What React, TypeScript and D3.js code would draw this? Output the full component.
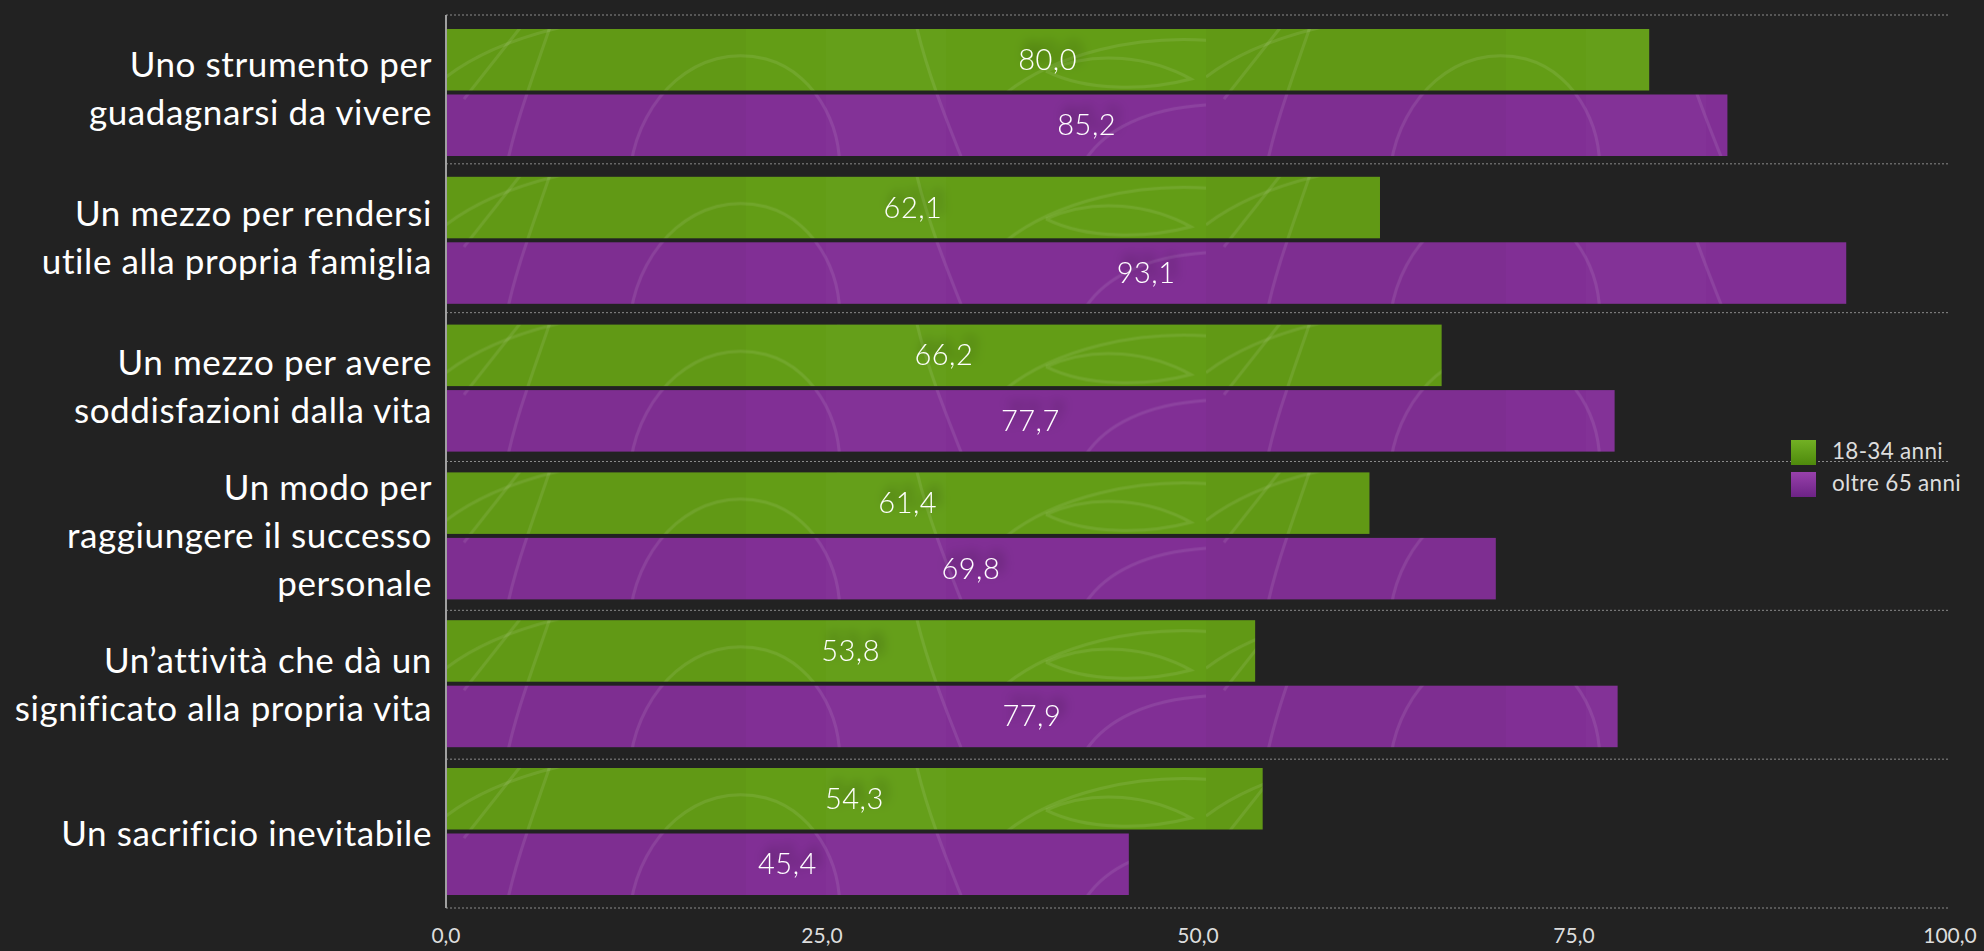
import React from "react";
import * as d3 from "d3";

const categories = [
  "Uno strumento per guadagnarsi da vivere",
  "Un mezzo per rendersi utile alla propria famiglia",
  "Un mezzo per avere soddisfazioni dalla vita",
  "Un modo per raggiungere il successo personale",
  "Un’attività che dà un significato alla propria vita",
  "Un sacrificio inevitabile",
];
const categoryLines = [
  ["Uno strumento per", "guadagnarsi da vivere"],
  ["Un mezzo per rendersi", "utile alla propria famiglia"],
  ["Un mezzo per avere", "soddisfazioni dalla vita"],
  ["Un modo per", "raggiungere il successo", "personale"],
  ["Un’attività che dà un", "significato alla propria vita"],
  ["Un sacrificio inevitabile"],
];
const seriesNames = ["18-34 anni", "oltre 65 anni"];
const young = [80.0, 62.1, 66.2, 61.4, 53.8, 54.3];
const old = [85.2, 93.1, 77.7, 69.8, 77.9, 45.4];
const xTicks = [0, 25, 50, 75, 100];

const W = 1984;
const H = 951;
const FONT = "Lato, 'Open Sans', 'DejaVu Sans', sans-serif";

const itLocale = d3.formatLocale({ decimal: ",", thousands: ".", grouping: [3], currency: ["€", ""] });
const fmt = itLocale.format(".1f");

const texturePaths = [
  "M0,48 C30,25 70,8 125,-4",
  "M18,70 L78,-6",
  "M60,140 C70,90 90,40 105,-5",
  "M185,135 C195,70 250,12 320,30 C375,45 400,110 392,150",
  "M470,-5 C480,40 500,90 520,140",
  "M560,64 C610,25 690,5 770,12",
  "M600,42 C650,20 705,28 745,50 C700,62 640,62 600,42",
  "M640,130 C660,100 700,80 760,76",
];

export default function App() {
  const x = d3.scaleLinear().domain([0, 100]).range([446, 1950]);
  const gridY = d3.scaleLinear().domain([0, categories.length]).range([15, 908]);
  const groupStep = 147.8;
  const groupH = 127;
  const pIn = (groupStep - groupH) / groupStep;
  const yBand = d3
    .scaleBand<string>()
    .domain(categories)
    .range([29, 29 + (categories.length - 1) * groupStep + groupH])
    .paddingInner(pIn)
    .paddingOuter(0);
  const ySub = d3
    .scaleBand<string>()
    .domain(seriesNames)
    .range([0, yBand.bandwidth()])
    .paddingInner(4 / 65.5)
    .paddingOuter(0);

  const seriesData = [young, old];
  const colors = ["#639d16", "#812f95"];
  const patIds = ["texG", "texP"];

  const bars: any[] = [];
  categories.forEach((c, i) => {
    seriesData.forEach((vals, s) => {
      const y0 = (yBand(c) as number) + (ySub(seriesNames[s]) as number);
      bars.push({ c, s, v: vals[i], y: y0, h: ySub.bandwidth() });
    });
  });

  const lineH = 48;

  return (
    <svg
      width={W}
      height={H}
      style={{ position: "absolute", left: 0, top: 0, display: "block" }}
      fontFamily={FONT}
    >
      <defs>
        {patIds.map((id, s) => (
          <pattern
            key={id}
            id={id}
            patternUnits="userSpaceOnUse"
            x={446}
            y={29}
            width={760}
            height={groupStep}
          >
            <rect width={760} height={groupStep} fill={colors[s]} />
            <rect x={0} y={0} width={300} height={groupStep} fill="#000" opacity={0.025} />
            <rect x={380} y={0} width={120} height={groupStep} fill="#fff" opacity={0.015} />
            {texturePaths.map((d, k) => (
              <path key={k} d={d} fill="none" stroke="#fff" strokeOpacity={0.09} strokeWidth={3} />
            ))}
          </pattern>
        ))}
        <linearGradient id="legG" x1="0" y1="0" x2="0" y2="1">
          <stop offset="0" stopColor="#72b024" />
          <stop offset="1" stopColor="#4e8a0c" />
        </linearGradient>
        <linearGradient id="legP" x1="0" y1="0" x2="0" y2="1">
          <stop offset="0" stopColor="#9841ab" />
          <stop offset="1" stopColor="#6d2386" />
        </linearGradient>
        <filter id="glow" x="-50%" y="-80%" width="200%" height="260%">
          <feGaussianBlur in="SourceAlpha" stdDeviation="6" />
          <feOffset dx="5" dy="-7" result="b" />
          <feComponentTransfer>
            <feFuncA type="linear" slope="0.55" />
          </feComponentTransfer>
          <feMerge>
            <feMergeNode />
            <feMergeNode in="SourceGraphic" />
          </feMerge>
        </filter>
      </defs>

      <rect width={W} height={H} fill="#222222" />

      {/* gridlines */}
      {d3.range(categories.length + 1).map((k) => (
        <line
          key={"g" + k}
          x1={x(0)}
          x2={x(100)}
          y1={gridY(k)}
          y2={gridY(k)}
          stroke="#8a8a8a"
          strokeWidth={1}
          strokeDasharray="2,2"
        />
      ))}

      {/* bars */}
      {bars.map((b, k) => (
        <rect
          key={"b" + k}
          x={x(0)}
          y={b.y}
          width={x(b.v) - x(0)}
          height={b.h}
          fill={`url(#${patIds[b.s]})`}
        />
      ))}

      {/* value labels */}
      {bars.map((b, k) => (
        <text
          key={"v" + k}
          x={(x(0) + x(b.v)) / 2}
          y={b.y + b.h / 2 + 10}
          textAnchor="middle"
          fontSize={29}
          fontWeight={300}
          letterSpacing={0.5}
          fill="#ffffff"
          filter="url(#glow)"
        >
          {fmt(b.v)}
        </text>
      ))}

      {/* axis line */}
      <line x1={x(0)} x2={x(0)} y1={gridY(0)} y2={gridY(categories.length)} stroke="#a0a0a0" strokeWidth={2} />

      {/* category labels */}
      {categories.map((c, i) => {
        const lines = categoryLines[i];
        const center = (gridY(i) + gridY(i + 1)) / 2;
        return (
          <text key={"c" + i} textAnchor="end" fontSize={35} letterSpacing={0.6} fill="#ffffff">
            {lines.map((ln, j) => (
              <tspan key={j} x={432} y={center + (j - (lines.length - 1) / 2) * lineH + 12}>
                {ln}
              </tspan>
            ))}
          </text>
        );
      })}

      {/* x tick labels */}
      {xTicks.map((t) => (
        <text key={"t" + t} x={x(t)} y={943} textAnchor="middle" fontSize={21} fill="#dddddd">
          {fmt(t)}
        </text>
      ))}

      {/* legend */}
      {seriesNames.map((n, s) => (
        <g key={"l" + s} transform={`translate(1791, ${440 + s * 32})`}>
          <rect width={25} height={25} fill={s === 0 ? "url(#legG)" : "url(#legP)"} />
          <text x={41} y={19} fontSize={22.5} letterSpacing={0.3} fill="#dddddd">
            {n}
          </text>
        </g>
      ))}
    </svg>
  );
}
